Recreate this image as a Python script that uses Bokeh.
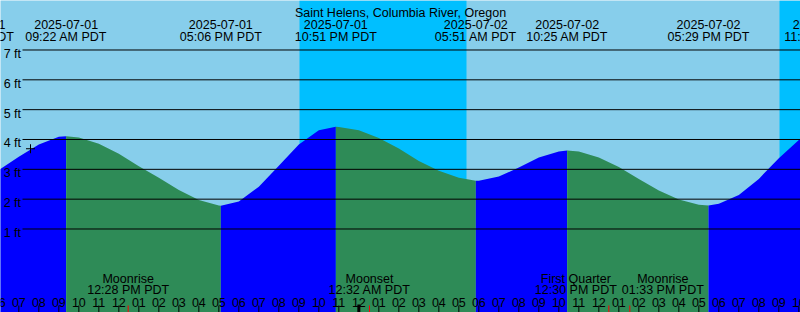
import pandas as pd
from bokeh.plotting import figure
from bokeh.models import Range1d, BoxAnnotation
from bokeh.core.properties import value
from bokeh.embed import file_html
from bokeh.resources import INLINE

# ---------------- data ----------------
title = "Saint Helens, Columbia River, Oregon"
window_start = "2025-07-01 06:05"
window_end = "2025-07-02 22:05"

# high / low tides
extreme_times = ["2025-07-01 04:44", "2025-07-01 09:22", "2025-07-01 17:06", "2025-07-01 22:51",
                 "2025-07-02 05:51", "2025-07-02 10:25", "2025-07-02 17:29", "2025-07-02 23:18"]
extreme_heights = [2.80, 4.11, 1.78, 4.43, 2.62, 3.63, 1.79, 4.35]
extreme_dates = ["2025-07-01", "2025-07-01", "2025-07-01", "2025-07-01",
                 "2025-07-02", "2025-07-02", "2025-07-02", "2025-07-02"]
extreme_labels = ["04:44 AM PDT", "09:22 AM PDT", "05:06 PM PDT", "10:51 PM PDT",
                  "05:51 AM PDT", "10:25 AM PDT", "05:29 PM PDT", "11:18 PM PDT"]

# hourly tide readings (ft), 2025-07-01 06:00 .. 2025-07-02 23:00
hourly_first = "2025-07-01 06:00"
hourly_heights = [2.98, 3.42, 3.83, 4.09, 4.07, 3.86, 3.52, 3.10, 2.72, 2.31, 1.97, 1.79,
                  1.92, 2.42, 3.12, 3.83, 4.31, 4.42,
                  4.31, 4.05, 3.70, 3.28, 2.95, 2.72, 2.62, 2.76, 3.06, 3.40, 3.60, 3.60,
                  3.40, 3.08, 2.68, 2.29, 1.99, 1.81, 1.85, 2.14, 2.68, 3.37, 3.98, 4.33]

# sun: night intervals (sunset, sunrise)
sunsets = ["2025-07-01 21:02", "2025-07-02 21:02"]
sunrises = ["2025-07-02 05:23", "2025-07-03 05:24"]

# moon events
moon_times = ["2025-07-01 12:28", "2025-07-02 00:32", "2025-07-02 12:30", "2025-07-02 13:33"]
moon_names = ["Moonrise", "Moonset", "First Quarter", "Moonrise"]
moon_labels = ["12:28 PM PDT", "12:32 AM PDT", "12:30 PM PDT", "01:33 PM PDT"]
moon_label_shift = [0, 0, -33, 33]  # px, to keep neighbouring labels apart

# marker
mark_time = "2025-07-01 07:35"
mark_height = 3.69

grid_levels = [1, 2, 3, 4, 5, 6, 7]

# ---------------- styles ----------------
W, H = 800, 312
DAY = "#87CEEB"
NIGHT = "#00BFFF"
RISE = "#0000FF"
FALL = "#2E8B57"
FONT = value("Liberation Sans")
FS = "12.5px"
Y_TOP, Y_BOT = 8.659, -1.799

t0 = pd.Timestamp(window_start)
t1 = pd.Timestamp(window_end)


def px2t(px):
    return t0 + (t1 - t0) * (px / W)


def px2ft(py):
    return Y_TOP - (Y_TOP - Y_BOT) * py / H


p = figure(width=W, height=H, x_axis_type="datetime",
           x_range=Range1d(t0, t1), y_range=Range1d(Y_BOT, Y_TOP),
           x_axis_location=None, y_axis_location=None,
           output_backend="svg", toolbar_location=None, min_border=0)
p.grid.visible = False
p.outline_line_color = None
p.background_fill_color = DAY
p.border_fill_color = DAY

# nights
for ss, sr in zip(sunsets, sunrises):
    p.add_layout(BoxAnnotation(left=pd.Timestamp(ss).value / 1e6, right=pd.Timestamp(sr).value / 1e6,
                               fill_color=NIGHT, fill_alpha=1, line_color=None, level="underlay"))

# tide curve
hour_times = pd.date_range(hourly_first, periods=len(hourly_heights), freq="h")
ext_t = pd.to_datetime(extreme_times)
df = pd.DataFrame({"t": list(hour_times) + list(ext_t),
                   "h": list(hourly_heights) + list(extreme_heights)})
df = df.sort_values("t").drop_duplicates("t")
floor = Y_BOT - 1
for i in range(len(ext_t) - 1):
    seg = df[(df.t >= ext_t[i]) & (df.t <= ext_t[i + 1])]
    col = RISE if extreme_heights[i + 1] > extreme_heights[i] else FALL
    p.varea(x=seg.t, y1=seg.h, y2=floor, fill_color=col)

# grid lines and labels
gx0 = px2t(22)
p.segment(x0=[gx0] * len(grid_levels), x1=[t1] * len(grid_levels),
          y0=grid_levels, y1=grid_levels, line_color="black", line_width=1)
p.text(x=[px2t(20.5)] * len(grid_levels), y=[g - 4 / 29.833 for g in grid_levels],
       text=[f"{g} ft" for g in grid_levels], text_align="right", text_baseline="alphabetic",
       text_font=FONT, text_font_size=FS, text_color="black")

# marker
p.scatter(x=[pd.Timestamp(mark_time)], y=[mark_height], marker="cross", size=9,
          line_color="black", line_width=1)

# top labels
p.text(x=[px2t(400)], y=[px2ft(12.3)], text=[title], text_align="center",
       text_baseline="alphabetic", text_font=FONT, text_font_size=FS, text_color="black")
p.text(x=ext_t, y=[px2ft(24)] * len(ext_t), text=extreme_dates, text_align="center",
       text_baseline="alphabetic", text_font=FONT, text_font_size=FS, text_color="black")
p.text(x=ext_t, y=[px2ft(36)] * len(ext_t), text=extreme_labels, text_align="center",
       text_baseline="alphabetic", text_font=FONT, text_font_size=FS, text_color="black")

# hour ticks
ticks = pd.date_range(t0.floor("h"), t1, freq="h")
normal = [t for t in ticks if t.hour != 0]
midn = [t for t in ticks if t.hour == 0]
p.segment(x0=normal, x1=normal, y0=[px2ft(312)] * len(normal), y1=[px2ft(305)] * len(normal),
          line_color="black", line_width=1)
p.segment(x0=midn, x1=midn, y0=[px2ft(312)] * len(midn), y1=[px2ft(304)] * len(midn),
          line_color="black", line_width=3)
p.text(x=ticks, y=[px2ft(301.7)] * len(ticks), text=[t.strftime("%I") for t in ticks],
       text_align="center", text_baseline="alphabetic", text_font=FONT, text_font_size=FS,
       text_color="black")

# moon events
mt = pd.to_datetime(moon_times)
p.segment(x0=mt, x1=mt, y0=[px2ft(312)] * len(mt), y1=[px2ft(305)] * len(mt),
          line_color="#FF0000", line_width=1)
p.text(x=mt, y=[px2ft(278.3)] * len(mt), text=moon_names, x_offset=moon_label_shift,
       text_align="center", text_baseline="alphabetic", text_font=FONT, text_font_size=FS,
       text_color="black")
p.text(x=mt, y=[px2ft(289.3)] * len(mt), text=moon_labels, x_offset=moon_label_shift,
       text_align="center", text_baseline="alphabetic", text_font=FONT, text_font_size=FS,
       text_color="black")

open("out.html", "w").write(file_html(p, INLINE))
